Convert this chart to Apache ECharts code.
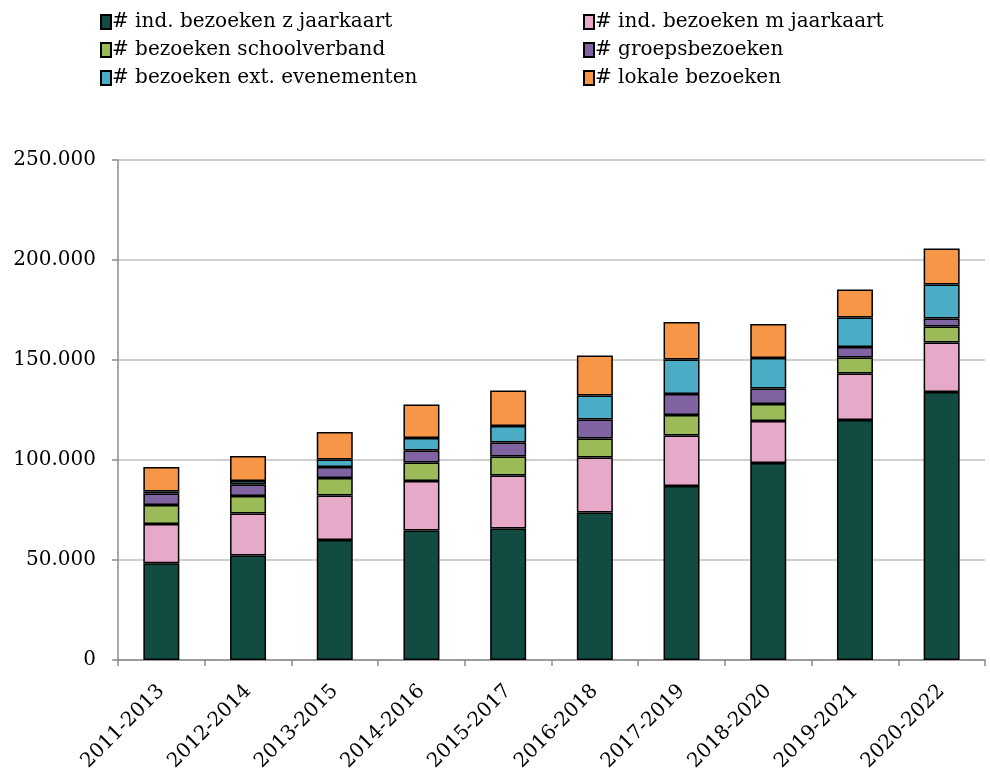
<!DOCTYPE html>
<html>
<head>
<meta charset="utf-8">
<script src="https://cdn.jsdelivr.net/npm/echarts@6/dist/echarts.min.js"></script>
<style>
  html, body { margin: 0; padding: 0; background: #fff; }
  #chart { width: 990px; height: 772px; }
</style>
</head>
<body>
<div id="chart"></div>
<script>
  // periodes
  var periods = ['2011-2013', '2012-2014', '2013-2015', '2014-2016', '2015-2017',
                 '2016-2018', '2017-2019', '2018-2020', '2019-2021', '2020-2022'];

  // bezoeken per soort
  var indZonder   = [48400, 52200, 60000, 64800, 65700, 73800, 87000, 98500, 120000, 134000];
  var indMet      = [19600, 21000, 22300, 24700, 26600, 27400, 25200, 21000, 23200, 24800];
  var school      = [9500, 8800, 8700, 9200, 9400, 9500, 10300, 8500, 8100, 8000];
  var groepen     = [5700, 5700, 5500, 6000, 7000, 9600, 10500, 7800, 5200, 3900];
  var extEvents   = [1000, 1800, 3800, 6300, 8300, 11900, 17200, 15200, 14800, 17100];
  var lokaal      = [12300, 12500, 13700, 16700, 17800, 20000, 18800, 17000, 13900, 17900];

  var yTicks = [0, 50000, 100000, 150000, 200000, 250000];

  var names = ['# ind. bezoeken z jaarkaart', '# ind. bezoeken m jaarkaart',
               '# bezoeken schoolverband', '# groepsbezoeken',
               '# bezoeken ext. evenementen', '# lokale bezoeken'];
  var colors = ['#114b41', '#e6a9c9', '#9bbb59', '#8064a2', '#4bacc6', '#f79646'];
  var values = [indZonder, indMet, school, groepen, extEvents, lokaal];

  var font = 'DejaVu Serif';

  var chart = echarts.init(document.getElementById('chart'));

  var series = names.map(function (n, i) {
    return {
      name: n,
      type: 'bar',
      stack: 'totaal',
      barWidth: 36,
      data: values[i],
      itemStyle: { color: colors[i], borderColor: '#000', borderWidth: 1.5 }
    };
  });

  var legendBase = {
    orient: 'vertical',
    top: 6,
    icon: 'rect',
    itemWidth: 10,
    itemHeight: 14,
    itemGap: 6,
    selectedMode: false,
    textStyle: { fontFamily: font, fontSize: 20, color: '#000', lineHeight: 22, padding: [0, 0, 0, -4] }
  };

  chart.setOption({
    animation: false,
    backgroundColor: '#fff',
    legend: [
      Object.assign({}, legendBase, { left: 95, data: [names[0], names[2], names[4]] }),
      Object.assign({}, legendBase, { left: 578, data: [names[1], names[3], names[5]] })
    ],
    grid: { left: 118, right: 5, top: 160, bottom: 112, outerBoundsMode: 'none' },
    xAxis: {
      type: 'category',
      data: periods,
      axisLine: { lineStyle: { color: '#8c8c8c', width: 1.5 } },
      axisTick: { show: true, length: 6, lineStyle: { color: '#8c8c8c', width: 1.5 } },
      axisLabel: { rotate: 45, fontFamily: font, fontSize: 20, color: '#000', margin: 28 }
    },
    yAxis: {
      type: 'value',
      min: 0,
      max: 250000,
      interval: 50000,
      axisLine: { show: true, lineStyle: { color: '#8c8c8c', width: 1.5 } },
      axisTick: { show: true, length: 6, lineStyle: { color: '#8c8c8c', width: 1.5 } },
      splitLine: { lineStyle: { color: '#bfbfbf', width: 1.5 } },
      axisLabel: {
        fontFamily: font, fontSize: 20, color: '#000', margin: 22,
        formatter: function (v) {
          if (yTicks.indexOf(v) < 0) return '';
          return v === 0 ? '0' : (v / 1000) + '.000';
        }
      }
    },
    series: series
  });
</script>
</body>
</html>
